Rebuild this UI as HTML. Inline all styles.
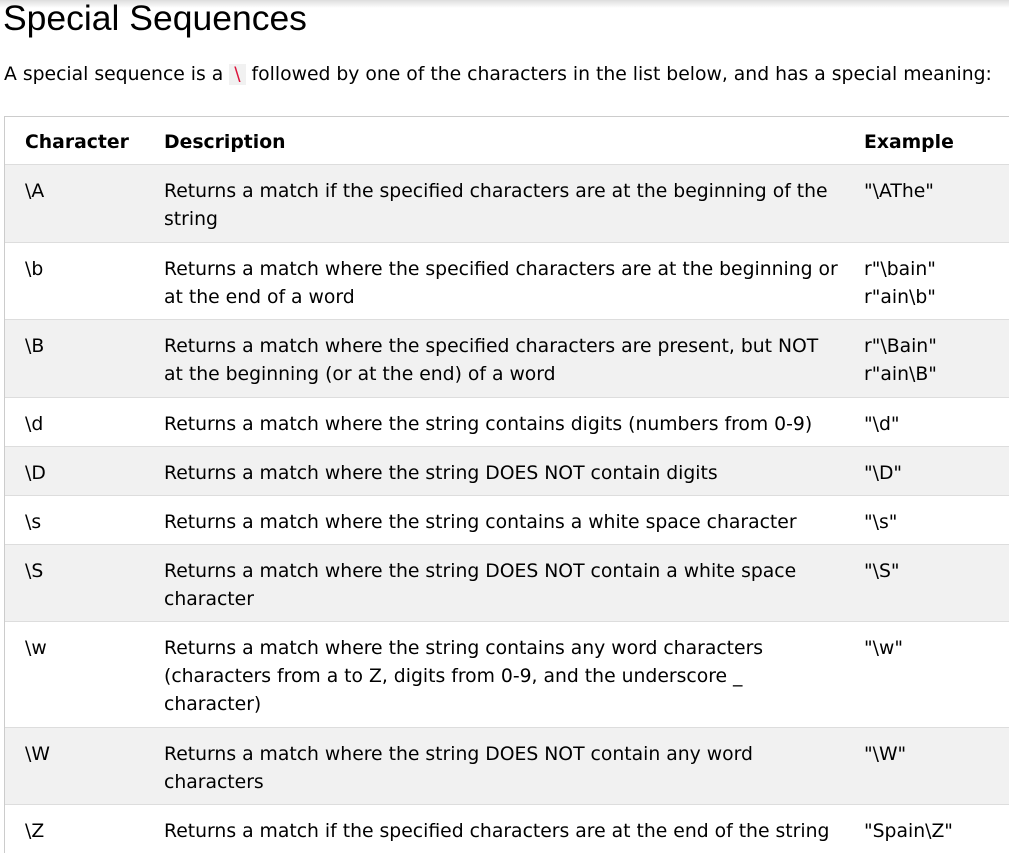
<!DOCTYPE html>
<html style="overflow:hidden;height:853px"><head><meta charset="utf-8"><style>
body{margin:0;background:#fff;width:1009px;height:853px;overflow:hidden;position:relative;font-family:"DejaVu Sans","Liberation Sans",sans-serif;color:#000}
.shadow{position:absolute;left:0;top:0;width:1009px;height:8px;background:linear-gradient(#ddd,#fff)}
h1{position:absolute;left:3px;top:-4px;margin:0;font-family:"Liberation Sans",sans-serif;font-weight:normal;font-size:35.5px;line-height:44px}
p{position:absolute;left:4px;top:62px;margin:0;font-size:18.8px;line-height:26px;white-space:nowrap}
code{background:#f1f1f1;color:#dc143c;padding:0 5px;font-family:"DejaVu Sans",sans-serif}
.t{position:absolute;left:4px;top:116px;width:1004px;height:736px;border-left:1px solid #ccc;border-top:1px solid #ccc}
.r{position:absolute;left:5px;width:1004px;border-bottom:1px solid #ddd;font-size:18.8px;line-height:28px;white-space:nowrap;box-sizing:border-box;overflow:hidden}
.r.g{background:#f1f1f1}
.r span{position:absolute;top:13px}
.a{left:20px}.b{left:159px}.c{left:859px}
.h{font-weight:bold}
</style></head><body>
<div class="shadow"></div>
<h1>Special Sequences</h1>
<p>A special sequence is a <code>\</code> followed by one of the characters in the list below, and has a special meaning:</p>
<div class="t"></div>
<div class="r h" style="top:117px;height:48px"><span class="a" style="top:12px">Character</span><span class="b" style="top:12px">Description</span><span class="c" style="top:12px">Example</span></div>
<div class="r g" style="top:165px;height:78px"><span class="a">\A</span><span class="b">Returns a match if the specified characters are at the beginning of the<br>string</span><span class="c">"\AThe"</span></div>
<div class="r" style="top:243px;height:77px"><span class="a">\b</span><span class="b">Returns a match where the specified characters are at the beginning or<br>at the end of a word</span><span class="c">r"\bain"<br>r"ain\b"</span></div>
<div class="r g" style="top:320px;height:78px"><span class="a">\B</span><span class="b">Returns a match where the specified characters are present, but NOT<br>at the beginning (or at the end) of a word</span><span class="c">r"\Bain"<br>r"ain\B"</span></div>
<div class="r" style="top:398px;height:49px"><span class="a">\d</span><span class="b">Returns a match where the string contains digits (numbers from 0-9)</span><span class="c">"\d"</span></div>
<div class="r g" style="top:447px;height:49px"><span class="a">\D</span><span class="b">Returns a match where the string DOES NOT contain digits</span><span class="c">"\D"</span></div>
<div class="r" style="top:496px;height:49px"><span class="a">\s</span><span class="b">Returns a match where the string contains a white space character</span><span class="c">"\s"</span></div>
<div class="r g" style="top:545px;height:77px"><span class="a">\S</span><span class="b">Returns a match where the string DOES NOT contain a white space<br>character</span><span class="c">"\S"</span></div>
<div class="r" style="top:622px;height:106px"><span class="a">\w</span><span class="b">Returns a match where the string contains any word characters<br>(characters from a to Z, digits from 0-9, and the underscore _<br>character)</span><span class="c">"\w"</span></div>
<div class="r g" style="top:728px;height:77px"><span class="a">\W</span><span class="b">Returns a match where the string DOES NOT contain any word<br>characters</span><span class="c">"\W"</span></div>
<div class="r" style="top:805px;height:48px;border-bottom:none"><span class="a">\Z</span><span class="b">Returns a match if the specified characters are at the end of the string</span><span class="c">"Spain\Z"</span></div>
</body></html>
